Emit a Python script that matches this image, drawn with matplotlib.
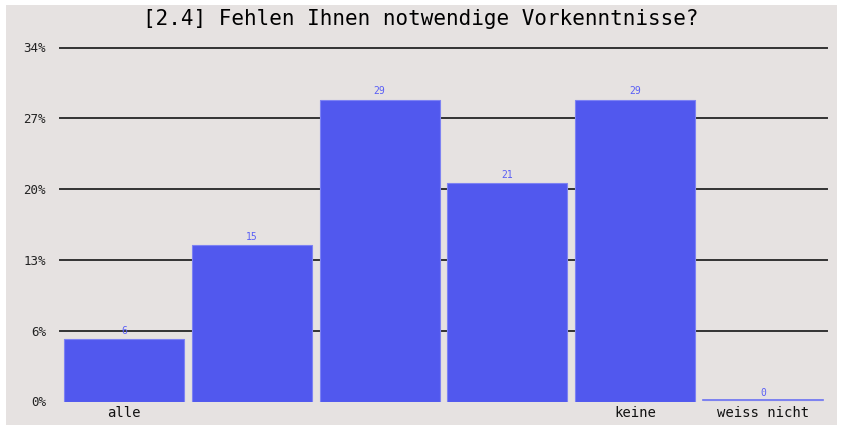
import matplotlib
matplotlib.use("Agg")
from matplotlib import pyplot as plt
from matplotlib.patches import Rectangle

# answers and percentages
categories = ["alle", "", "", "", "keine", "weiss nicht"]
values = [6, 15, 29, 21, 29, 0]
yticks = [0, 6.8, 13.6, 20.4, 27.2, 34]
title = "[2.4] Fehlen Ihnen notwendige Vorkenntnisse?"

barColor = "#5158ee"
bgColor = "#e6e2e1"

fig = plt.figure(figsize=(8.42, 4.26), dpi=100)
fig.patch.set_facecolor("white")
fig.patches.append(Rectangle((6 / 842, 1 / 426), 831 / 842, 420 / 426,
                             transform=fig.transFigure, facecolor=bgColor,
                             edgecolor="none", zorder=-5))

ax = fig.add_axes([60 / 842, 24.5 / 426, 767 / 842, 354 / 426])
ax.patch.set_alpha(0)
ax.set_zorder(2)

# grid lines, none at zero
for t in yticks[1:]:
    ax.axhline(t, color="#333333", linewidth=1.4, zorder=1, clip_on=False)

pos = list(range(len(values)))
bars = ax.bar(pos, values, width=0.94, color=barColor, edgecolor="#7d82f3",
              linewidth=0.8, zorder=2)
# zero bar shows as a thin line
ax.plot([5 - 0.47, 5 + 0.47], [0.1, 0.1], color="#6a70f2", linewidth=1.2,
        zorder=3, clip_on=False)

for p, v in zip(pos, values):
    ax.text(p, v + 0.3, str(v), ha="center", va="bottom", fontsize=7,
            color="#5a5ff5", family="DejaVu Sans Mono", zorder=4)

ax.set_xlim(-0.5, 5.5)
ax.set_ylim(0, 34)
ax.set_yticks(yticks)
ax.set_yticklabels([str(int(t)) + "%" for t in yticks], fontsize=9,
                   family="DejaVu Sans Mono", color="#222222")
ax.set_xticks(pos)
ax.set_xticklabels(categories, fontsize=10, family="DejaVu Sans Mono",
                   color="#111111")
ax.tick_params(axis="y", length=0, pad=10)
ax.tick_params(axis="x", length=0, pad=3)
for s in ax.spines.values():
    s.set_visible(False)

fig.text(0.5, 1 - 19 / 426, title, ha="center", va="center", fontsize=15,
         family="DejaVu Sans Mono", color="#000000", zorder=5)

fig.savefig("out.png", dpi=100)
